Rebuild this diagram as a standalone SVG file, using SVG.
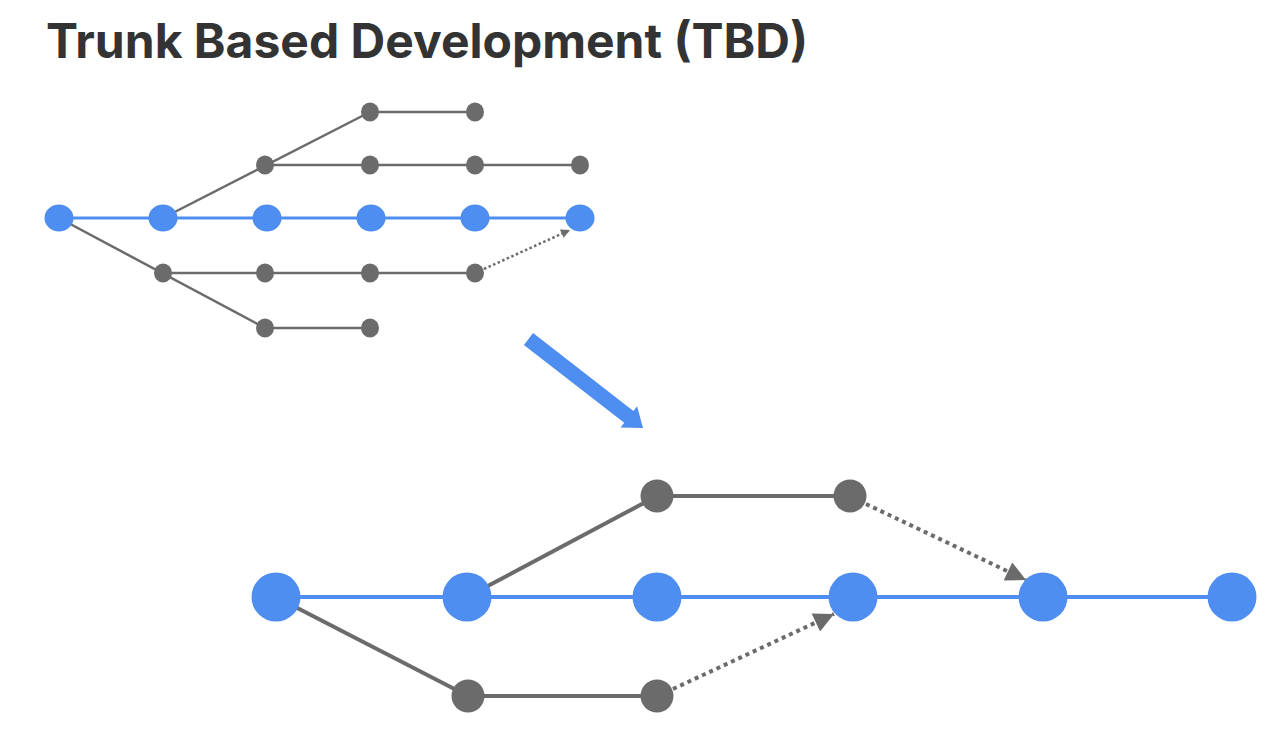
<svg xmlns="http://www.w3.org/2000/svg" width="1288" height="734" viewBox="0 0 1288 734">
<style>
.title{font-family:Inter,"Liberation Sans",sans-serif;font-weight:700;font-size:48px;fill:#333333}
.trunk{stroke:#4d8ef0;fill:none}
.br{stroke:#6b6b6b;fill:none}
.dot{stroke:#6b6b6b;fill:none}
.bn{fill:#4d8ef0}
.gn{fill:#6b6b6b}
</style>
<defs>
<marker id="ahS" viewBox="0 0 10 10" refX="10" refY="5" markerWidth="10" markerHeight="9" markerUnits="userSpaceOnUse" orient="auto"><path d="M0,0L10,5L0,10z" fill="#6b6b6b"/></marker>
<marker id="ahL" viewBox="0 0 10 10" refX="10" refY="5" markerWidth="22" markerHeight="20" markerUnits="userSpaceOnUse" orient="auto"><path d="M0,0L10,5L0,10z" fill="#6b6b6b"/></marker>
</defs>
<rect width="1288" height="734" fill="#ffffff"/>
<text class="title" x="46" y="58">Trunk Based Development (TBD)</text>

<g id="connectors">
<line class="trunk" x1="59" y1="218" x2="580" y2="218" stroke-width="3"/>
<line class="br" x1="163" y1="218" x2="370" y2="112" stroke-width="2.5"/>
<line class="br" x1="370" y1="112" x2="475" y2="112" stroke-width="2.5"/>
<line class="br" x1="265" y1="165" x2="580" y2="165" stroke-width="2.5"/>
<line class="br" x1="59" y1="218" x2="265" y2="328" stroke-width="2.5"/>
<line class="br" x1="163" y1="273" x2="475" y2="273" stroke-width="2.5"/>
<line class="br" x1="265" y1="328" x2="370" y2="328" stroke-width="2.5"/>
<line class="dot" x1="484" y1="269" x2="570" y2="230" stroke-width="2.5" stroke-dasharray="2.5 2.5" marker-end="url(#ahS)"/>
<polygon points="533.1,333.1 633.4,411.0 637.1,406.2 643,428 620.5,427.6 624.2,422.8 523.9,344.9" fill="#4d8ef0"/>
<line class="trunk" x1="276" y1="597" x2="1232" y2="597" stroke-width="4"/>
<line class="br" x1="467" y1="597" x2="657" y2="496" stroke-width="4"/>
<line class="br" x1="657" y1="496" x2="850" y2="496" stroke-width="4"/>
<line class="br" x1="276" y1="597" x2="468" y2="696" stroke-width="4"/>
<line class="br" x1="468" y1="696" x2="657" y2="696" stroke-width="4"/>
<line class="dot" x1="866" y1="504" x2="1026" y2="580" stroke-width="4" stroke-dasharray="4 4" marker-end="url(#ahL)"/>
<line class="dot" x1="673" y1="689" x2="834" y2="614" stroke-width="4" stroke-dasharray="4 4" marker-end="url(#ahL)"/>
</g>

<g id="t-m1"><ellipse class="bn" cx="59" cy="218" rx="14.5" ry="13.5"/></g>
<g id="t-m2"><ellipse class="bn" cx="163" cy="218" rx="14.5" ry="13.5"/></g>
<g id="t-m3"><ellipse class="bn" cx="267" cy="218" rx="14.5" ry="13.5"/></g>
<g id="t-m4"><ellipse class="bn" cx="371" cy="218" rx="14.5" ry="13.5"/></g>
<g id="t-m5"><ellipse class="bn" cx="475" cy="218" rx="14.5" ry="13.5"/></g>
<g id="t-m6"><ellipse class="bn" cx="580" cy="218" rx="14.5" ry="13.5"/></g>

<g id="t-a1"><ellipse class="gn" cx="370" cy="112" rx="9" ry="9.5"/></g>
<g id="t-a2"><ellipse class="gn" cx="475" cy="112" rx="9" ry="9.5"/></g>
<g id="t-b1"><ellipse class="gn" cx="265" cy="165" rx="9" ry="9.5"/></g>
<g id="t-b2"><ellipse class="gn" cx="370" cy="165" rx="9" ry="9.5"/></g>
<g id="t-b3"><ellipse class="gn" cx="475" cy="165" rx="9" ry="9.5"/></g>
<g id="t-b4"><ellipse class="gn" cx="580" cy="165" rx="9" ry="9.5"/></g>
<g id="t-c1"><ellipse class="gn" cx="163" cy="273" rx="9" ry="9.5"/></g>
<g id="t-c2"><ellipse class="gn" cx="265" cy="273" rx="9" ry="9.5"/></g>
<g id="t-c3"><ellipse class="gn" cx="370" cy="273" rx="9" ry="9.5"/></g>
<g id="t-c4"><ellipse class="gn" cx="475" cy="273" rx="9" ry="9.5"/></g>
<g id="t-d1"><ellipse class="gn" cx="265" cy="328" rx="9" ry="9.5"/></g>
<g id="t-d2"><ellipse class="gn" cx="370" cy="328" rx="9" ry="9.5"/></g>

<g id="b-m1"><circle class="bn" cx="276" cy="597" r="24.5"/></g>
<g id="b-m2"><circle class="bn" cx="467" cy="597" r="24.5"/></g>
<g id="b-m3"><circle class="bn" cx="657" cy="597" r="24.5"/></g>
<g id="b-m4"><circle class="bn" cx="853" cy="597" r="24.5"/></g>
<g id="b-m5"><circle class="bn" cx="1043" cy="597" r="24.5"/></g>
<g id="b-m6"><circle class="bn" cx="1232" cy="597" r="24.5"/></g>
<g id="b-f1"><circle class="gn" cx="657" cy="496" r="16.5"/></g>
<g id="b-f2"><circle class="gn" cx="850" cy="496" r="16.5"/></g>
<g id="b-g1"><circle class="gn" cx="468" cy="696" r="16.5"/></g>
<g id="b-g2"><circle class="gn" cx="657" cy="696" r="16.5"/></g>
</svg>
